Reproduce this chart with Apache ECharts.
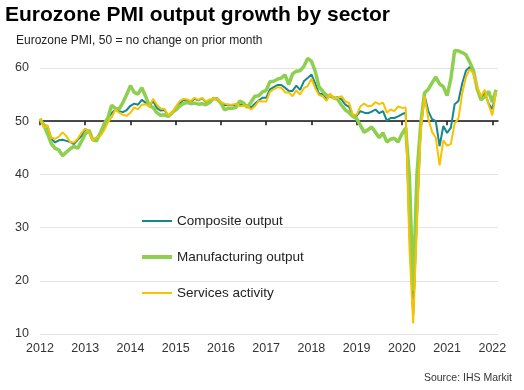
<!DOCTYPE html>
<html><head><meta charset="utf-8">
<script src="https://cdn.jsdelivr.net/npm/echarts@6/dist/echarts.min.js"></script>
<style>html,body{margin:0;padding:0;background:#fff}#c{width:524px;height:390px}</style>
</head><body><div id="c"></div>
<script>
// Year tick labels (one per January, starting Jan 2012)
const yearLabels = ['2012','2013','2014','2015','2016','2017','2018','2019','2020','2021','2022'];

// Monthly values, Jan 2012 .. Feb 2022
const composite = [
  50.4, 49.3, 49.1, 46.7, 46.0, 46.4, 46.5, 46.3, 46.1, 45.7, 46.5, 47.2,
  48.6, 47.9, 46.5, 46.9, 47.7, 48.7, 50.5, 51.5, 52.2, 51.9, 51.7, 52.1,
  52.9, 53.3, 53.1, 54.0, 53.5, 52.8, 53.8, 52.5, 52.0, 52.1, 51.1, 51.4,
  52.6, 53.3, 54.0, 53.9, 53.6, 54.2, 53.9, 54.3, 53.6, 53.9, 54.2, 54.3,
  53.6, 53.0, 53.1, 53.0, 53.1, 53.1, 53.2, 52.9, 52.6, 53.3, 53.9, 54.4,
  54.4, 56.0, 56.4, 56.8, 56.8, 56.3, 55.7, 55.7, 56.7, 55.9, 57.5, 58.1,
  58.8, 57.1, 55.2, 55.1, 54.1, 54.9, 54.3, 54.5, 54.1, 53.1, 52.7, 51.1,
  51.0, 51.9, 51.6, 51.5, 51.8, 52.2, 51.5, 51.9, 50.1, 50.6, 50.6, 50.9,
  51.3, 51.6, 29.7, 13.6, 31.9, 48.5, 54.9, 51.9, 50.4, 50.0, 45.3, 49.1,
  47.8, 48.8, 53.2, 53.8, 57.1, 59.5, 60.2, 59.0, 56.2, 54.2, 55.4, 53.3,
  52.3, 55.5
];
const manufacturing = [
  50.4, 49.3, 47.6, 45.8, 44.9, 44.6, 43.5, 44.2, 44.8, 45.3, 44.9, 46.2,
  47.6, 48.3, 46.5, 46.3, 47.8, 49.5, 50.6, 53.0, 52.4, 52.3, 53.5, 55.0,
  56.7, 55.4, 55.1, 56.3, 54.7, 52.9, 52.6, 51.6, 51.1, 51.2, 50.9, 51.6,
  52.1, 52.8, 53.3, 53.5, 53.3, 53.4, 53.2, 53.3, 53.1, 53.5, 54.3, 54.1,
  53.4, 52.1, 52.5, 52.4, 52.6, 53.8, 53.4, 52.6, 53.6, 54.7, 54.8, 55.5,
  55.8, 57.4, 57.5, 57.9, 58.1, 58.7, 56.9, 58.9, 59.4, 59.5, 60.3, 61.8,
  61.3, 59.4, 56.5, 55.6, 54.9, 54.7, 54.4, 54.1, 53.0, 52.1, 51.6, 50.9,
  50.5, 49.2, 47.9, 48.4, 48.9, 47.9, 46.9, 47.8, 46.1, 46.6, 46.8, 46.1,
  47.6, 48.7, 39.5, 18.1, 40.0, 49.5, 55.3, 56.0, 57.2, 58.3, 57.0, 56.5,
  54.8, 58.0, 63.3, 63.2, 62.9, 62.5, 61.1, 59.5, 56.0, 54.0, 54.6, 55.6,
  53.6, 55.9
];
const services = [
  50.5, 48.8, 49.2, 46.9, 46.7, 47.1, 47.9, 47.2, 46.1, 46.0, 46.7, 47.8,
  48.6, 47.9, 46.4, 47.0, 47.2, 48.3, 49.8, 50.7, 52.2, 51.6, 51.2, 51.0,
  51.6, 52.6, 52.2, 53.1, 53.2, 52.8, 54.2, 53.1, 52.4, 52.3, 51.1, 51.6,
  52.7, 53.7, 54.2, 54.1, 53.8, 54.4, 54.0, 54.4, 53.7, 54.1, 54.2, 54.2,
  53.6, 53.3, 53.1, 53.1, 53.3, 52.8, 52.9, 52.8, 52.2, 52.8, 53.8, 53.7,
  53.7, 55.5, 56.0, 56.4, 56.3, 55.4, 55.4, 54.7, 55.8, 55.0, 56.2, 56.6,
  58.0, 56.2, 54.9, 54.7, 53.8, 55.2, 54.2, 54.4, 54.7, 53.7, 53.4, 51.2,
  51.2, 52.8, 53.3, 52.8, 52.9, 53.6, 53.2, 53.5, 51.6, 52.2, 51.9, 52.8,
  52.5, 52.6, 26.4, 12.0, 30.5, 48.3, 54.7, 50.5, 48.0, 46.9, 41.7, 46.4,
  45.4, 45.7, 49.6, 50.5, 55.2, 58.3, 59.8, 59.0, 56.4, 54.6, 55.9, 53.1,
  51.1, 55.5
];
const seriesNames = ['Composite output', 'Manufacturing output', 'Services activity'];

const FONT = '"Liberation Sans", Arial, sans-serif';
const tickVals = yearLabels.map((_, i) => i * 12);
const pts = arr => arr.map((v, i) => [i, v]);

const chart = echarts.init(document.getElementById('c'), null, {renderer: 'canvas'});

function legendFor(name, top, h) {
  return {
    data: [{name: name}], left: 142, top: top, orient: 'vertical',
    itemWidth: 30, itemHeight: h, icon: 'rect', selectedMode: false, padding: 0,
    textStyle: {fontSize: 13.5, color: '#222', fontFamily: FONT}
  };
}

chart.setOption({
  animation: false,
  title: [
    {text: 'Eurozone PMI output growth by sector', left: 5, top: 5, padding: 0,
     textStyle: {fontSize: 21, fontWeight: 'bold', color: '#000', fontFamily: FONT}},
    {text: 'Eurozone PMI, 50 = no change on prior month', left: 16, top: 35, padding: 0,
     textStyle: {fontSize: 12, fontWeight: 'normal', color: '#222', fontFamily: FONT}},
    {text: 'Source: IHS Markit', right: 12, top: 373, padding: 0,
     textStyle: {fontSize: 10.5, fontWeight: 'normal', color: '#333', fontFamily: FONT}}
  ],
  legend: [
    legendFor(seriesNames[0], 214, 2),
    legendFor(seriesNames[1], 250, 4),
    legendFor(seriesNames[2], 286, 2)
  ],
  grid: {left: 40, right: 26, top: 68, bottom: 56},
  xAxis: [
    {type: 'value', min: 0, max: 121.5, position: 'bottom',
     axisLine: {show: false}, axisTick: {show: false}, splitLine: {show: false},
     axisLabel: {customValues: tickVals, formatter: v => yearLabels[Math.round(v / 12)],
                 fontSize: 12.5, color: '#333', margin: 8, fontFamily: FONT}},
    {type: 'value', min: 0, max: 121.5, position: 'bottom', offset: -212.8,
     axisLine: {show: true, lineStyle: {color: '#111', width: 1.5}},
     axisTick: {show: true, customValues: tickVals, length: 4, lineStyle: {color: '#111', width: 1.5}},
     axisLabel: {show: false}, splitLine: {show: false}}
  ],
  yAxis: {type: 'value', min: 10, max: 60, interval: 10,
    axisLine: {show: false}, axisTick: {show: false},
    axisLabel: {fontSize: 12.5, color: '#333', margin: 11, fontFamily: FONT},
    splitLine: {lineStyle: {color: '#e4e4e4', width: 1}}},
  series: [
    {name: seriesNames[0], type: 'line', data: pts(composite), xAxisIndex: 0,
     symbol: 'none', clip: false, color: '#14878f', z: 3,
     lineStyle: {color: '#14878f', width: 2}},
    {name: seriesNames[1], type: 'line', data: pts(manufacturing), xAxisIndex: 0,
     symbol: 'none', clip: false, color: '#8dcf4e', z: 4,
     lineStyle: {color: '#8dcf4e', width: 3.5}},
    {name: seriesNames[2], type: 'line', data: pts(services), xAxisIndex: 0,
     symbol: 'none', clip: false, color: '#f7c300', z: 5,
     lineStyle: {color: '#f7c300', width: 2}}
  ]
});
</script>
</body></html>
